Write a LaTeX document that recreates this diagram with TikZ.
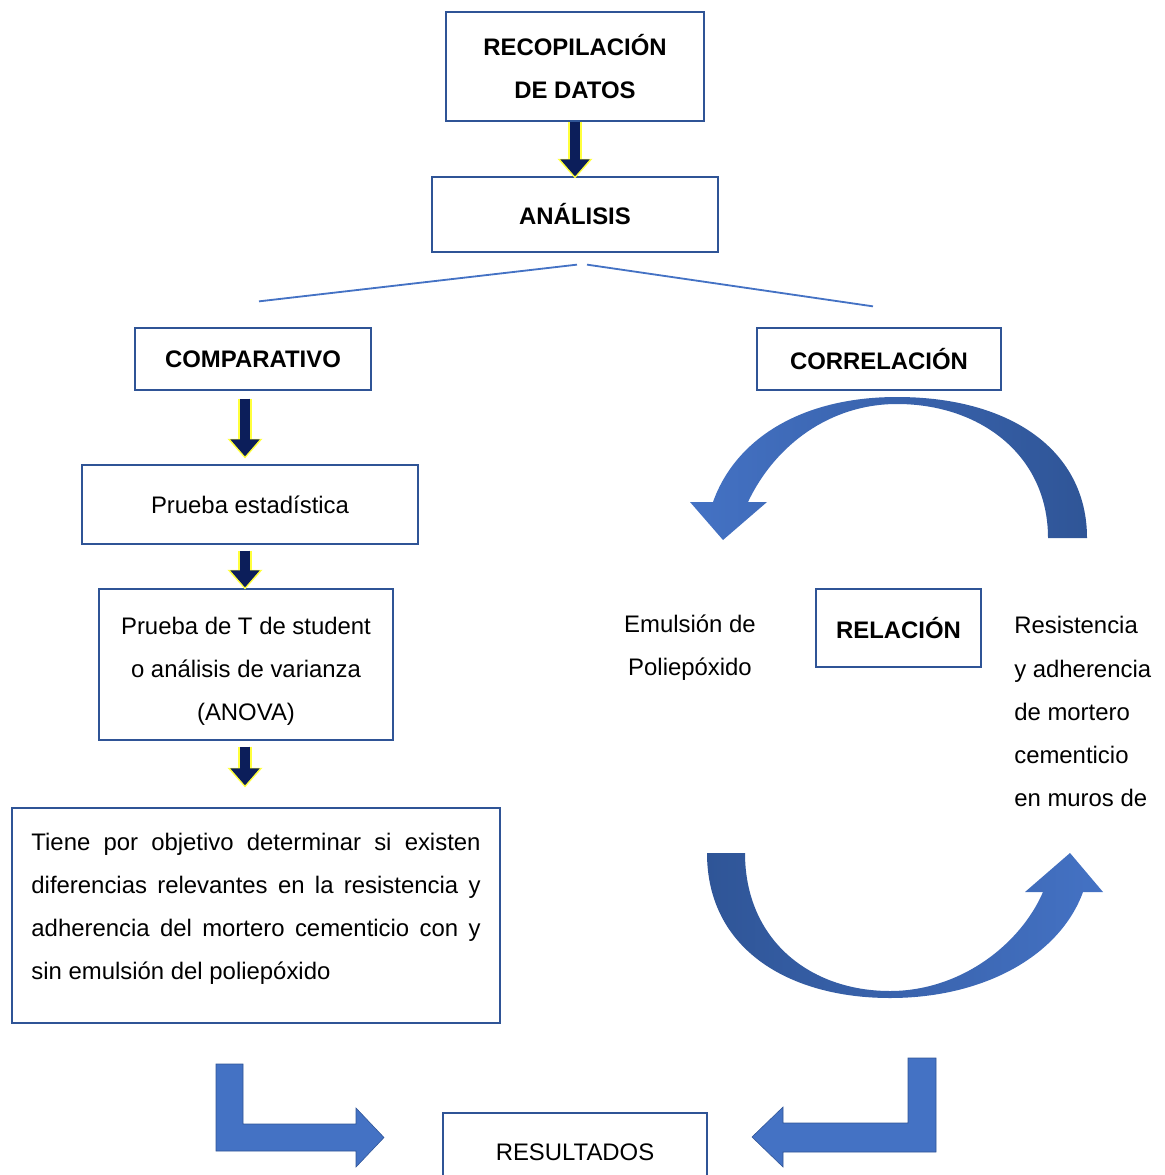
\documentclass[tikz,border=0pt]{standalone}
\usepackage{fontspec}
\setmainfont{Liberation Sans}
\definecolor{boxblue}{RGB}{47,84,150}
\definecolor{linkblue}{RGB}{68,114,196}
\definecolor{arcdark}{RGB}{47,85,151}
\definecolor{arclight}{RGB}{68,114,196}
\definecolor{arrownavy}{RGB}{12,30,90}
\definecolor{glowyellow}{RGB}{255,255,60}
\usetikzlibrary{arrows.meta,calc}

\begin{document}
\begin{tikzpicture}[
  x=0.025cm, y=-0.025cm,
  box/.style={
    rectangle, draw=boxblue, line width=0.9pt, fill=white,
    inner sep=0pt, align=center,
    font=\fontsize{17}{30.6}\selectfont, text=black
  },
  head/.style={box, font=\fontsize{17}{30.6}\selectfont\bfseries},
  plain/.style={inner sep=0pt, font=\fontsize{17}{30.6}\selectfont, text=black},
  smallarrow/.style={
    draw=arrownavy, line width=7pt, -{Triangle[width=20pt,length=12pt]},
    preaction={draw=glowyellow, line width=9.5pt, shorten >=-1.5pt,
      -{Triangle[width=24pt,length=14pt]}}
  },
  branch/.style={draw=linkblue, line width=1.3pt},
  bent/.style={fill=arclight, draw=boxblue, line width=0.4pt}
]
\clip (0,0) rectangle (1164,1175);

% Top of the flow
\node[head, minimum width=6.45cm, minimum height=2.725cm] (rec) at (575,66.5) {RECOPILACIÓN\\DE DATOS};
\node[head, minimum width=7.15cm, minimum height=1.875cm] (ana) at (575,214.5) {ANÁLISIS};
\draw[smallarrow] (rec.south) -- (ana.north);

% Branches
\node[head, minimum width=5.9cm, minimum height=1.55cm] (comp) at (253,359) {COMPARATIVO};
\node[head, minimum width=6.1cm, minimum height=1.55cm] (corr) at (879,359) {CORRELACIÓN};
\draw[branch] ($(ana.south)+(2,12)$) -- ($(comp.north)+(6,-26)$);
\draw[branch] ($(ana.south)+(12,12)$) -- ($(corr.north)+(-6,-21)$);

% Left column
\node[box, minimum width=8.4cm, minimum height=1.975cm] (pest) at (250,504.5) {Prueba estadística};
\node[box, minimum width=7.35cm, minimum height=3.775cm] (ptst) at (246,664.5) {%
  \rule{0pt}{22pt}Prueba de T de student\\o análisis de varianza\\(ANOVA)};
\node[box, minimum width=12.2cm, minimum height=5.375cm, text width=11.225cm, align=justify] (obj) at (256,915.5) {%
  \tolerance=9999\hyphenpenalty=10000
  Tiene por objetivo determinar si existen\linebreak
  diferencias relevantes en la resistencia y\linebreak
  adherencia del mortero cementicio con y\linebreak
  sin emulsión del poliepóxido\par\vspace{10pt}};

\draw[smallarrow] ($(comp.south)+(-8,8)$) -- ($(pest.north)+(-5,-8)$);
\draw[smallarrow] ($(pest.south)+(-5,6)$) -- ($(ptst.north)+(-1,-1)$);
\draw[smallarrow] ($(ptst.south)+(-1,6)$) -- ($(obj.north)+(-11,-22)$);

% Right cycle
\node[head, minimum width=4.125cm, minimum height=1.95cm] (rel) at (898.5,628) {RELACIÓN};
\node[plain, align=center] (emul) at (690,648) {Emulsión de\\Poliepóxido};
\node[plain, align=left, anchor=west] (resis) at (1014,711.5) {Resistencia\\y adherencia\\de mortero\\cementicio\\en muros de};

\shade[left color=arclight, right color=arcdark]
  (1087,538) .. controls (1087,450) and (1010,397) .. (897,397)
  .. controls (800,397) and (735,440) .. (713,502)
  -- (690,502) -- (723,540) -- (767,502) -- (748,502)
  .. controls (775,445) and (830,404) .. (897,404)
  .. controls (980,404) and (1048,455) .. (1048,538) -- cycle;
\shade[left color=arcdark, right color=arclight]
  (707,853) .. controls (707,950) and (790,998) .. (890,998)
  .. controls (985,998) and (1060,955) .. (1083,892)
  -- (1103,892) -- (1070,853) -- (1025,892) -- (1043,892)
  .. controls (1020,945) and (960,991) .. (890,991)
  .. controls (810,991) and (745,940) .. (745,853) -- cycle;

% Results
\node[box, minimum width=6.6cm, minimum height=1.95cm] (res) at (575,1152) {RESULTADOS};
\draw[bent] (216,1064) -- (243,1064) -- (243,1124) -- (356,1124) -- (356,1108)
  -- (384,1137.5) -- (356,1167) -- (356,1151) -- (216,1151) -- cycle;
\draw[bent] (936,1058) -- (908,1058) -- (908,1123) -- (783,1123) -- (783,1107)
  -- (752,1137) -- (783,1167) -- (783,1152) -- (936,1152) -- cycle;
\end{tikzpicture}
\end{document}
